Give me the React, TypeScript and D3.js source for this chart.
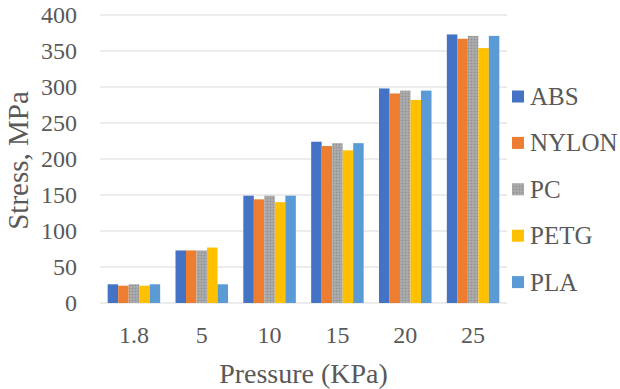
import React from "react";
import * as d3 from "d3";

const categories = ["1.8", "5", "10", "15", "20", "25"];
const seriesNames = ["ABS", "NYLON", "PC", "PETG", "PLA"];
const absValues = [26, 73, 149, 224, 298, 373];
const nylonValues = [24, 73, 144, 218, 291, 367];
const pcValues = [26, 73, 149, 222, 295, 371];
const petgValues = [24, 77, 140, 212, 282, 354];
const plaValues = [26, 26, 149, 222, 295, 371];
const yTicks = [0, 50, 100, 150, 200, 250, 300, 350, 400];

const seriesValues = [absValues, nylonValues, pcValues, petgValues, plaValues];
const colors = ["#4472C4", "#ED7D31", "url(#pcPattern)", "#FFC000", "#5B9BD5"];

const W = 620;
const H = 389;
const left = 100;
const right = 507;
const top = 15;
const bottom = 303;
const textColor = "#595959";
const font = "Liberation Serif, DejaVu Serif, serif";

export default function App() {
  const x = d3
    .scaleBand<string>()
    .domain(categories)
    .range([left, right])
    .paddingInner(0.226)
    .paddingOuter(0.113);
  const xs = d3
    .scaleBand<string>()
    .domain(seriesNames)
    .range([0, x.bandwidth()])
    .padding(0);
  const y = d3.scaleLinear().domain([0, 400]).range([bottom, top]);

  return (
    <svg
      width={W}
      height={H}
      style={{ position: "absolute", left: 0, top: 0, background: "#fff", fontFamily: font }}
    >
      <defs>
        <pattern id="pcPattern" width="3" height="3" patternUnits="userSpaceOnUse">
          <rect width="3" height="3" fill="#A5A5A5" />
          <rect x="0" y="0" width="1" height="1" fill="#8E8E8E" />
          <rect x="1.5" y="1.5" width="1" height="1" fill="#B8B8B8" />
        </pattern>
      </defs>
      {yTicks.map((t) => (
        <g key={t}>
          <line
            x1={left}
            x2={right}
            y1={y(t)}
            y2={y(t)}
            stroke="#D9D9D9"
            strokeWidth={1.2}
          />
          <text
            x={77}
            y={y(t) + 8}
            textAnchor="end"
            style={{ fontFamily: font }}
            fontSize={24}
            fill={textColor}
          >
            {t}
          </text>
        </g>
      ))}
      {categories.map((c, i) => (
        <g key={c}>
          {seriesNames.map((s, j) => {
            const v = seriesValues[j][i];
            return (
              <rect
                key={s}
                x={(x(c) as number) + (xs(s) as number)}
                y={y(v)}
                width={xs.bandwidth()}
                height={y(0) - y(v)}
                fill={colors[j]}
              />
            );
          })}
          <text
            x={(x(c) as number) + x.bandwidth() / 2}
            y={343}
            textAnchor="middle"
            style={{ fontFamily: font }}
            fontSize={24}
            fill={textColor}
          >
            {c}
          </text>
        </g>
      ))}
      <text
        x={(left + right) / 2}
        y={383}
        textAnchor="middle"
        style={{ fontFamily: font }}
        fontSize={28}
        fill={textColor}
      >
        Pressure (KPa)
      </text>
      <text
        transform={`translate(28,160.5) rotate(-90)`}
        textAnchor="middle"
        style={{ fontFamily: font }}
        fontSize={29}
        fill={textColor}
      >
        Stress, MPa
      </text>
      {seriesNames.map((s, j) => {
        const cy = 96.5 + j * 46.4;
        return (
          <g key={s}>
            <rect x={512} y={cy - 6} width={12} height={12} fill={colors[j]} />
            <text
              x={530}
              y={cy + 8.5}
              style={{ fontFamily: font }}
              fontSize={25}
              fill={textColor}
            >
              {s}
            </text>
          </g>
        );
      })}
    </svg>
  );
}
